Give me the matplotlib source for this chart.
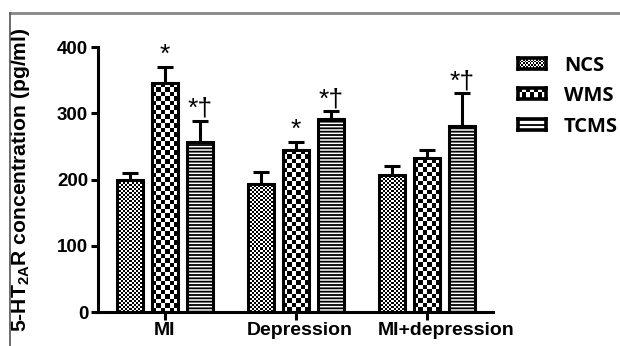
import numpy as np
import matplotlib
matplotlib.use("Agg")
import matplotlib.pyplot as plt
from matplotlib.lines import Line2D
from matplotlib.transforms import ScaledTranslation, blended_transform_factory

# data
groups = ["MI", "Depression", "MI+depression"]
series = ["NCS", "WMS", "TCMS"]
ncs = [199, 194, 207]
wms = [345, 244, 232]
tcms = [256, 292, 281]
ncs_err = [11, 17, 13]
wms_err = [25, 13, 13]
tcms_err = [33, 11, 49]
marks_wms = ["*", "*", ""]
marks_tcms = ["*†", "*†", "*†"]
# the source draws the group labels slightly right of their ticks (inches)
label_shift = [0.0, 0.04, 0.19]

plt.rcParams["font.family"] = ["Liberation Sans", "DejaVu Sans"]
plt.rcParams["mathtext.fontset"] = "custom"
plt.rcParams["mathtext.rm"] = "Liberation Sans:bold"
plt.rcParams["mathtext.bf"] = "Liberation Sans:bold"
plt.rcParams["mathtext.default"] = "bf"
plt.rcParams["hatch.linewidth"] = 1.3


def checker(n_rows, n_cols):
    i, j = np.indices((n_rows, n_cols))
    return ((i + j) % 2).astype(float)


def fill_checker(ax, bar, cell_px):
    # paint a checkerboard inside the bar, clipped to its outline
    x0, w = bar.get_x(), bar.get_width()
    h = bar.get_height()
    bb = bar.get_window_extent()
    ncols = max(1, int(round(bb.width / cell_px)))
    nrows = max(1, int(round(bb.height / cell_px)))
    im = ax.imshow(checker(nrows, ncols), cmap="gray", vmin=0, vmax=1,
                   extent=(x0, x0 + w, 0, h), aspect="auto",
                   interpolation="nearest", zorder=1.5)
    im.set_clip_path(bar)


fig = plt.figure(figsize=(6.2, 3.46), dpi=100)
ax = fig.add_axes([0.158, 0.098, 0.637, 0.766])

x = np.arange(len(groups))
off = 0.267
w = 0.2
lw = 2.2
err_kw = dict(elinewidth=2.2, capsize=5.5, capthick=2.2, ecolor="black")

b1 = ax.bar(x - off, ncs, w, facecolor="none", edgecolor="black", linewidth=lw,
            zorder=2)
b2 = ax.bar(x, wms, w, facecolor="none", edgecolor="black", linewidth=lw,
            zorder=2)
b3 = ax.bar(x + off, tcms, w, facecolor="white", edgecolor="black", linewidth=lw,
            hatch="-----", zorder=2)
ax.errorbar(x - off, ncs, yerr=[np.zeros(3), ncs_err], fmt="none", zorder=1, **err_kw)
ax.errorbar(x, wms, yerr=[np.zeros(3), wms_err], fmt="none", zorder=1, **err_kw)
ax.errorbar(x + off, tcms, yerr=[np.zeros(3), tcms_err], fmt="none", zorder=1, **err_kw)

ax.set_xlim(-0.51, 2.5)
ax.set_ylim(0, 400)
fig.canvas.draw()

for b in b1:
    fill_checker(ax, b, 2.0)
for b in b2:
    fill_checker(ax, b, 4.5)
ax.set_xlim(-0.51, 2.5)
ax.set_ylim(0, 400)

for xi, v, e, m in zip(x, wms, wms_err, marks_wms):
    if m:
        ax.text(xi, v + e, m, ha="center", va="bottom", fontsize=19,
                clip_on=False)
for xi, v, e, m in zip(x + off, tcms, tcms_err, marks_tcms):
    ax.text(xi, v + e, m, ha="center", va="bottom", fontsize=19,
            clip_on=False)

for s in ["top", "right"]:
    ax.spines[s].set_visible(False)
for s in ["left", "bottom"]:
    ax.spines[s].set_linewidth(2.2)
ax.set_yticks([0, 100, 200, 300, 400])
ax.set_xticks(x)
ax.set_xticklabels([])
base = blended_transform_factory(ax.transData, ax.transAxes)
for xi, name, dx in zip(x, groups, label_shift):
    ax.text(xi, 0, name, fontsize=14, fontweight="bold", ha="center", va="top",
            transform=base + ScaledTranslation(dx, -0.1, fig.dpi_scale_trans))
ax.tick_params(axis="y", labelsize=13.5, width=2.2, length=5, pad=2)
ax.tick_params(axis="x", width=2.2, length=6, pad=3)
for t in ax.get_yticklabels():
    t.set_fontweight("bold")
ax.set_ylabel("5-HT$_{2A}$R concentration (pg/ml)", fontsize=15.2,
              fontweight="bold")
ax.yaxis.set_label_coords(-0.167, 0.5)

# legend drawn by hand so the checkerboards show
box_y = [63, 93, 124]
txt_y = [66, 96, 127]
for k, name in enumerate(series):
    py = box_y[k]
    lax = fig.add_axes([518 / 620, 1 - (py + 5.5) / 346, 28 / 620, 11 / 346])
    if k == 2:
        lax.add_patch(plt.Rectangle((0, 0), 1, 1, facecolor="white",
                                    hatch="---", edgecolor="black",
                                    linewidth=0))
        lax.set_xlim(0, 1)
        lax.set_ylim(0, 1)
    else:
        cell = 1.6 if k == 0 else 4.0
        lax.imshow(checker(int(11 / cell), int(28 / cell)), cmap="gray",
                   vmin=0, vmax=1, aspect="auto", interpolation="nearest")
    lax.set_xticks([])
    lax.set_yticks([])
    for s in lax.spines.values():
        s.set_linewidth(2.6)
    fig.text(564 / 620, 1 - txt_y[k] / 346, name, fontsize=14.5,
             fontweight="bold", family=["Open Sans", "DejaVu Sans"],
             va="center", ha="left")

# frame lines of the source image
fig.add_artist(Line2D([10 / 620, 1], [1 - 13 / 346, 1 - 13 / 346],
                      color="#888888", linewidth=2))
fig.add_artist(Line2D([10 / 620, 10 / 620], [0, 1 - 13 / 346],
                      color="#555555", linewidth=1.2))

fig.savefig("out.png", dpi=100)
